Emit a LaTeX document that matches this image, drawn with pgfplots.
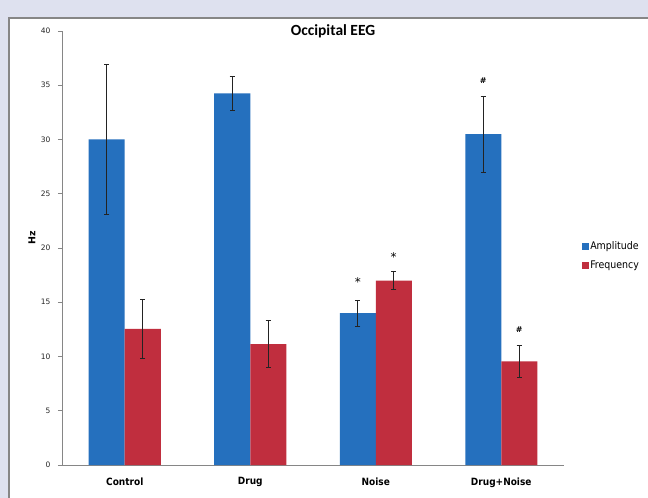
\documentclass[border=0pt]{standalone}
\usepackage{pgfplots}
\pgfplotsset{compat=1.18}
\usepackage{pgfplotstable}
\usepackage{fontspec}
\setmainfont{DejaVu Sans}
\newfontfamily\cond{DejaVu Sans Condensed}
\newfontfamily\calib{Carlito}
\definecolor{lav}{RGB}{222,225,239}
\definecolor{ampblue}{RGB}{37,112,190}
\definecolor{freqred}{RGB}{192,46,62}
\definecolor{axgray}{RGB}{134,134,134}
\definecolor{errc}{RGB}{35,35,35}
\pgfplotstableread{
x  a     ae    f     fe
0  30.0  6.9   12.55 2.7
1  34.25 1.55  11.15 2.2
2  14.0  1.2   17.0  0.85
3  30.5  3.5   9.55  1.5
}\data
\begin{document}
\begin{tikzpicture}[x=1pt,y=1pt]
\useasboundingbox (0,0) rectangle (648,498);
\fill[lav] (0,0) rectangle (648,498);
\fill[white] (9,0) rectangle (648,480);
\draw[axgray,line width=1.2pt] (9,0)--(9,480)--(648,480);
\begin{axis}[
  at={(62pt,33pt)}, anchor=south west,
  scale only axis, width=502pt, height=434pt,
  xmin=-0.5, xmax=3.5, ymin=0, ymax=40,
  ytick={0,5,...,40},
  xtick={0,1,2,3},
  xticklabels={Control,Drug,Noise,Drug+Noise},
  axis x line*=bottom, axis y line*=left,
  axis line style={axgray, line width=0.6pt},
  tick align=outside,
  major tick length=4pt,
  tick style={axgray, line width=0.6pt},
  x tick style={draw=none},
  extra x ticks={0.5,1.5,2.5},
  extra x tick labels={},
  extra x tick style={tick style={draw=axgray, line width=0.6pt}, major tick length=4pt},
  /pgf/number format/assume math mode=true,
  yticklabel style={font=\fontsize{7.5}{9}\selectfont, text=black!85, xshift=-4pt},
  xticklabel style={font=\cond\bfseries\fontsize{10}{12}\selectfont, yshift=-5pt},
  ybar=0pt, bar width=36pt,
  legend style={draw=none, fill=none, at={(1.03,0.482)}, anchor=west,
    font=\cond\fontsize{10.5}{12}\selectfont, row sep=8pt,
    nodes={inner sep=1pt}},
  legend cell align=left,
  clip=false,
]
\addplot[fill=ampblue, draw=none,
  legend image code/.code={\fill[ampblue] (0pt,-3.5pt) rectangle (7pt,3.5pt);},
  error bars/.cd, y dir=both, y explicit,
  error bar style={errc, line width=0.8pt},
  error mark options={rotate=90, mark size=2.6pt, errc, line width=0.8pt}]
  table[x=x, y=a, y error=ae]{\data};
\addplot[fill=freqred, draw=none,
  legend image code/.code={\fill[freqred] (0pt,-3.5pt) rectangle (7pt,3.5pt);},
  error bars/.cd, y dir=both, y explicit,
  error bar style={errc, line width=0.8pt},
  error mark options={rotate=90, mark size=2.6pt, errc, line width=0.8pt}]
  table[x=x, y=f, y error=fe]{\data};
\legend{Amplitude,Frequency}
\node[font=\fontsize{12}{12}\selectfont] at (axis cs:1.857,16.9) {*};
\node[font=\fontsize{12}{12}\selectfont] at (axis cs:2.143,19.2) {*};
\node[font=\fontsize{8}{10}\selectfont\bfseries] at (axis cs:2.857,35.4) {\#};
\node[font=\fontsize{8}{10}\selectfont\bfseries] at (axis cs:3.143,12.5) {\#};
\node[font=\calib\bfseries\fontsize{15.5}{18}\selectfont] at (axis description cs:0.54,1.0) {Occipital EEG};
\node[font=\bfseries\fontsize{9.5}{10}\selectfont, rotate=90] at (axis description cs:-0.06,0.523) {Hz};
\end{axis}
\end{tikzpicture}
\end{document}
